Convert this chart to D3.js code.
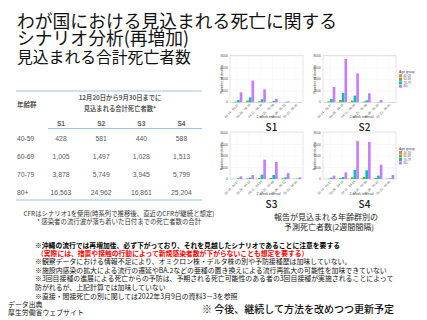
<!DOCTYPE html>
<html>
<head>
<meta charset="utf-8">
<script src="https://cdn.jsdelivr.net/npm/d3@7"></script>
<style>
  body { margin: 0; background: #fff; }
  text { font-family: "Noto Sans CJK JP", "Noto Sans", sans-serif; }
</style>
</head>
<body>
<div id="slide"></div>
<script>
// table values (12/20 - 9/30 expected deaths)
const ageGroups = ["40-59", "60-69", "70-79", "80+"];
const scenarios = ["S1", "S2", "S3", "S4"];
const deaths4059 = [428, 581, 440, 588];
const deaths6069 = [1005, 1497, 1028, 1513];
const deaths7079 = [3878, 5749, 3945, 5799];
const deaths80 = [16563, 24962, 16861, 25204];

// bar charts: 2-week intervals, one array per age group
const intervals = ["03-14 - 03-27", "03-28 - 04-10", "04-11 - 04-24", "04-25 - 05-08", "05-09 - 05-22", "05-23 - 06-05"];
const yTicks = [0, 2000, 4000, 6000, 8000];
const s1Deaths = [
  [20, 40, 30, 10, 0, 0],
  [120, 290, 170, 60, 10, 0],
  [400, 870, 520, 230, 60, 10],
  [1740, 3770, 2260, 600, 170, 50]
];
const s2Deaths = [
  [30, 60, 60, 20, 5, 0],
  [170, 400, 290, 120, 20, 5],
  [580, 1620, 1160, 350, 80, 20],
  [2670, 7540, 5040, 1570, 400, 60]
];
const s3Deaths = [
  [5, 10, 40, 40, 15, 5],
  [30, 100, 170, 170, 120, 30],
  [120, 230, 750, 700, 290, 60],
  [460, 700, 3360, 2960, 1040, 290]
];
const s4Deaths = [
  [5, 20, 60, 60, 30, 10],
  [60, 170, 290, 350, 170, 40],
  [230, 350, 1570, 1510, 580, 120],
  [580, 1160, 6610, 6430, 2490, 700]
];
const ageColors = ["#F8766D", "#7CAE00", "#00BFC4", "#C77CFF"];

const notes = [
  "※観察データにおける情報不足により、オミクロン株・デルタ株の別や予防接種歴は加味していない。",
  "※施設内感染の拡大による流行の遷延やBA.2などの亜種の置き換えによる流行再拡大の可能性を加味できていない",
  "※3回目接種の進展による死亡からの予防は、予期される死亡可能性のある者の3回目接種が実施されることによって",
  "防がれるが、上記計算では加味していない",
  "※直接・間接死亡の別に関しては2022年3月9日の資料3－3を参照"
];

const svg = d3.select("#slide").append("svg")
  .attr("width", 427)
  .attr("height", 320);

// ---- title ----
const titleLines = [
  {t: "わが国における見込まれる死亡に関する", y: 19.5, s: 17.8},
  {t: "シナリオ分析(再増加)", y: 36.8, s: 17.8},
  {t: "見込まれる合計死亡者数", y: 56.3, s: 15.8}
];
svg.selectAll(".title").data(titleLines).enter().append("text")
  .attr("class", "title")
  .attr("x", 17)
  .attr("y", d => d.y)
  .attr("dominant-baseline", "central")
  .style("font-size", d => d.s + "px")
  .style("fill", "#111")
  .text(d => d.t);

// ---- table ----
const tableGray = "#595959";
const lineBlue = "#9dc3e6";
const colX = d3.scalePoint().domain(scenarios).range([61, 181.5]);
const rowY = d3.scalePoint().domain(ageGroups).range([138, 192]);

svg.append("line").attr("x1", 16).attr("x2", 202).attr("y1", 91).attr("y2", 91)
  .attr("stroke", lineBlue).attr("stroke-width", 1);
svg.append("line").attr("x1", 48).attr("x2", 202).attr("y1", 128.5).attr("y2", 128.5)
  .attr("stroke", lineBlue).attr("stroke-width", 1);
svg.append("line").attr("x1", 16).attr("x2", 202).attr("y1", 200).attr("y2", 200)
  .attr("stroke", lineBlue).attr("stroke-width", 1);

svg.append("text").attr("x", 17).attr("y", 104)
  .attr("dominant-baseline", "central")
  .style("font-size", "6.5px").style("font-weight", "bold").style("fill", tableGray)
  .text("年齢群");
svg.append("text").attr("x", 120).attr("y", 97.7)
  .attr("text-anchor", "middle").attr("dominant-baseline", "central")
  .style("font-size", "6.3px").style("font-weight", "bold").style("fill", tableGray)
  .text("12月20日から9月30日までに");
svg.append("text").attr("x", 120).attr("y", 108.3)
  .attr("text-anchor", "middle").attr("dominant-baseline", "central")
  .style("font-size", "6.3px").style("font-weight", "bold").style("fill", tableGray)
  .text("見込まれる合計死亡者数*");

svg.selectAll(".colHead").data(scenarios).enter().append("text")
  .attr("class", "colHead")
  .attr("x", d => colX(d)).attr("y", 123.3)
  .attr("text-anchor", "middle").attr("dominant-baseline", "central")
  .style("font-family", "'Liberation Sans', sans-serif")
  .style("font-size", "6.5px").style("font-weight", "bold").style("fill", tableGray)
  .text(d => d);

const tableRows = [deaths4059, deaths6069, deaths7079, deaths80];
tableRows.forEach(function(vals, i) {
  const y = rowY(ageGroups[i]);
  svg.append("text").attr("x", 17).attr("y", y)
    .attr("dominant-baseline", "central")
    .style("font-family", "'Liberation Sans', sans-serif")
    .style("font-size", "6.8px").style("fill", tableGray)
    .text(ageGroups[i]);
  svg.selectAll(".cell" + i).data(vals).enter().append("text")
    .attr("x", (d, j) => colX(scenarios[j])).attr("y", y)
    .attr("text-anchor", "middle").attr("dominant-baseline", "central")
    .style("font-family", "'Liberation Sans', sans-serif")
    .style("font-size", "6.8px").style("fill", tableGray)
    .text(d => d3.format(",")(d));
});

svg.append("text").attr("x", 119).attr("y", 213.6)
  .attr("text-anchor", "middle").attr("dominant-baseline", "central")
  .style("font-size", "6.4px").style("fill", "#333")
  .text("CFRはシナリオ1を使用(時系列で推移後、直近のCFRが継続と想定)");
svg.append("text").attr("x", 119).attr("y", 221.2)
  .attr("text-anchor", "middle").attr("dominant-baseline", "central")
  .style("font-size", "6.4px").style("fill", "#333")
  .text("* 感染者の流行波が落ち着いた日付までの死亡者数の合計");

// ---- bar charts ----
function drawPanel(left, top, series, label, withLegend) {
  const w = 73, h = 46;
  const g = svg.append("g");
  const x = d3.scaleBand().domain(intervals).range([left, left + w])
    .paddingInner(0.1).paddingOuter(0.15);
  const xs = d3.scaleBand().domain(ageGroups).range([0, x.bandwidth()]);
  const y = d3.scaleLinear().domain([0, 8000]).range([top + h, top]);

  g.append("rect").attr("x", left).attr("y", top - 1).attr("width", w).attr("height", h + 1)
    .attr("fill", "#fff").attr("stroke", "#c8c8c8").attr("stroke-width", 0.5);
  g.selectAll(".gy").data(yTicks).enter().append("line")
    .attr("x1", left).attr("x2", left + w)
    .attr("y1", d => y(d)).attr("y2", d => y(d))
    .attr("stroke", "#ececec").attr("stroke-width", 0.4);
  g.selectAll(".gx").data(intervals).enter().append("line")
    .attr("x1", d => x(d) + x.bandwidth() / 2).attr("x2", d => x(d) + x.bandwidth() / 2)
    .attr("y1", top - 1).attr("y2", top + h)
    .attr("stroke", "#f0f0f0").attr("stroke-width", 0.4);

  series.forEach(function(vals, k) {
    g.selectAll(".bar" + k).data(vals).enter().append("rect")
      .attr("x", (d, i) => x(intervals[i]) + xs(ageGroups[k]))
      .attr("width", xs.bandwidth())
      .attr("y", d => y(d))
      .attr("height", d => y(0) - y(d))
      .attr("fill", ageColors[k]);
  });

  // y axis
  g.selectAll(".yl").data(yTicks).enter().append("text")
    .attr("x", left - 2).attr("y", d => y(d))
    .attr("text-anchor", "end").attr("dominant-baseline", "central")
    .style("font-family", "'Liberation Sans', sans-serif")
    .style("font-size", "3.4px").style("fill", "#555")
    .text(d => d);
  g.append("text")
    .attr("transform", `translate(${left - 7},${top + h / 2}) rotate(-90)`)
    .attr("text-anchor", "middle")
    .style("font-family", "'Liberation Sans', sans-serif")
    .style("font-size", "3.6px").style("fill", "#444")
    .text("Number of deaths");

  // x axis
  g.selectAll(".xl").data(intervals).enter().append("text")
    .attr("transform", d => `translate(${x(d) + x.bandwidth() / 2 + 1},${top + h + 2}) rotate(-45)`)
    .attr("text-anchor", "end").attr("dominant-baseline", "central")
    .style("font-family", "'Liberation Sans', sans-serif")
    .style("font-size", "3.1px").style("fill", "#555")
    .text(d => d);
  g.append("text")
    .attr("x", left + w / 2 + 2).attr("y", top + h + 14.5)
    .attr("text-anchor", "middle").attr("dominant-baseline", "central")
    .style("font-family", "'Liberation Sans', sans-serif")
    .style("font-size", "3.6px").style("fill", "#444")
    .text("2-week interval");

  // scenario label
  g.append("text")
    .attr("x", left + w / 2 + 5).attr("y", top + h + 24)
    .attr("text-anchor", "middle").attr("dominant-baseline", "central")
    .style("font-size", "10px").style("font-weight", "500").style("fill", "#222")
    .text(label);

  if (withLegend) {
    const lx = left + w + 3, ly = top + h / 2 - 7;
    g.append("text").attr("x", lx).attr("y", ly)
      .attr("dominant-baseline", "central")
      .style("font-family", "'Liberation Sans', sans-serif")
      .style("font-size", "3.4px").style("fill", "#444")
      .text("Age group");
    g.selectAll(".lg").data(ageGroups).enter().append("rect")
      .attr("x", lx).attr("y", (d, i) => ly + 2 + i * 3.5)
      .attr("width", 3).attr("height", 3)
      .attr("fill", (d, i) => ageColors[i]);
    g.selectAll(".lt").data(ageGroups).enter().append("text")
      .attr("x", lx + 4.5).attr("y", (d, i) => ly + 3.5 + i * 3.5)
      .attr("dominant-baseline", "central")
      .style("font-family", "'Liberation Sans', sans-serif")
      .style("font-size", "2.9px").style("fill", "#555")
      .text(d => d);
  }
}

drawPanel(230, 56.3, s1Deaths, "S1", false);
drawPanel(323, 56.3, s2Deaths, "S2", true);
drawPanel(230, 133, s3Deaths, "S3", false);
drawPanel(323, 133, s4Deaths, "S4", true);

svg.append("text").attr("x", 326).attr("y", 216.7)
  .attr("text-anchor", "middle").attr("dominant-baseline", "central")
  .style("font-size", "8px").style("fill", "#222")
  .text("報告が見込まれる年齢群別の");
svg.append("text").attr("x", 329).attr("y", 226.7)
  .attr("text-anchor", "middle").attr("dominant-baseline", "central")
  .style("font-size", "8px").style("fill", "#222")
  .text("予測死亡者数(2週間間隔)");

// ---- notes ----
svg.append("text").attr("x", 35).attr("y", 244.8)
  .attr("dominant-baseline", "central")
  .style("font-size", "6.8px").style("font-weight", "bold").style("fill", "#000")
  .text("※沖縄の流行では再増加後、必ず下がっており、それを見越したシナリオであることに注意を要する");
svg.append("text").attr("x", 37).attr("y", 252.6)
  .attr("dominant-baseline", "central")
  .style("font-size", "6.8px").style("font-weight", "bold").style("fill", "#ff0000")
  .text("（実際には、措置や接触の行動によって新規感染者数が下がらないことも想定を要する）");
svg.selectAll(".note").data(notes).enter().append("text")
  .attr("class", "note")
  .attr("x", 35)
  .attr("y", (d, i) => 261 + i * 8.7)
  .attr("dominant-baseline", "central")
  .style("font-size", "6.9px").style("fill", "#111")
  .text(d => d);

svg.append("text").attr("x", 8).attr("y", 303.5)
  .attr("dominant-baseline", "central")
  .style("font-size", "6.9px").style("fill", "#111")
  .text("データ出典");
svg.append("text").attr("x", 8).attr("y", 312.3)
  .attr("dominant-baseline", "central")
  .style("font-size", "6.9px").style("fill", "#111")
  .text("厚生労働省ウェブサイト");

svg.append("text").attr("x", 202).attr("y", 308.3)
  .attr("dominant-baseline", "central")
  .style("font-size", "10px").style("font-weight", "500").style("fill", "#111")
  .text("※ 今後、継続して方法を改めつつ更新予定");
</script>
</body>
</html>
